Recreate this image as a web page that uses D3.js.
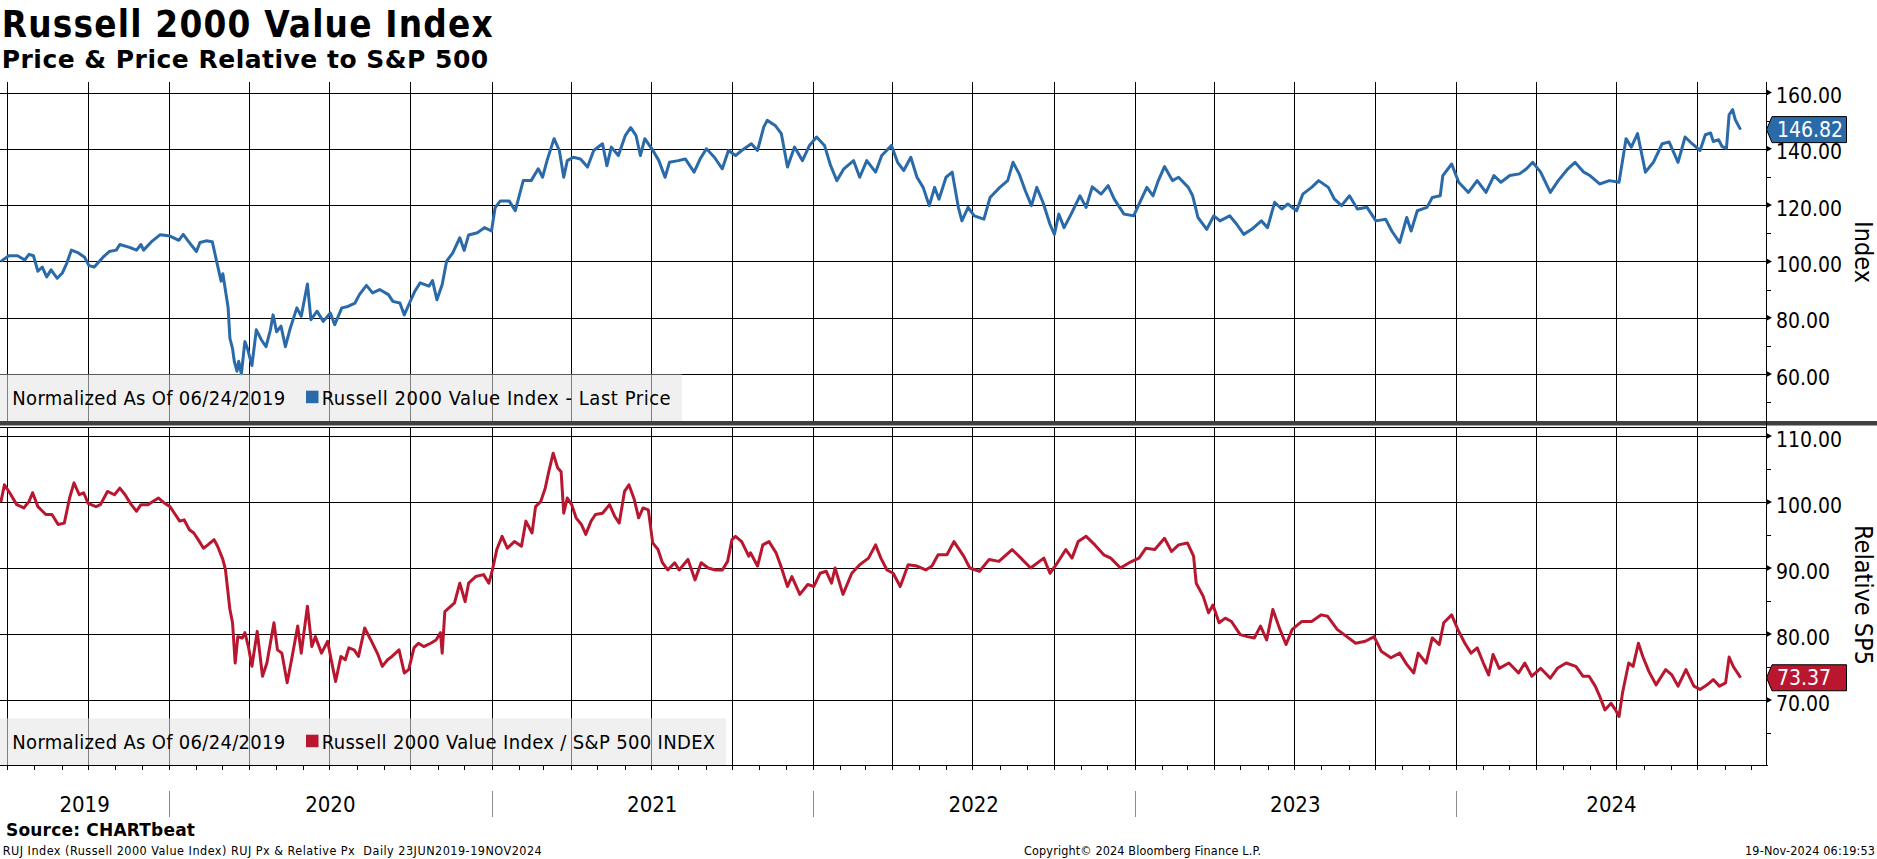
<!DOCTYPE html>
<html>
<head>
<meta charset="utf-8">
<script src="https://cdn.jsdelivr.net/npm/d3@7"></script>
<style>
  body { margin: 0; background: #fff; }
  svg { display: block; }
  text { font-family: "DejaVu Sans Condensed", "DejaVu Sans", sans-serif; white-space: pre; }
</style>
</head>
<body>
<script>
// Russell 2000 Value Index, normalized to 100 on 06/24/2019
var priceDates = [
  "2019-06-24","2019-07-03","2019-07-13","2019-07-21","2019-07-26","2019-07-31","2019-08-05","2019-08-10","2019-08-15","2019-08-20","2019-08-27","2019-09-02","2019-09-07","2019-09-12","2019-09-20","2019-09-27","2019-10-02","2019-10-08","2019-10-18","2019-10-25","2019-11-02","2019-11-06","2019-11-17","2019-11-25","2019-11-30","2019-12-03","2019-12-12","2019-12-22",
  "2020-01-02","2020-01-12","2020-01-17","2020-01-24","2020-02-01","2020-02-05","2020-02-12","2020-02-19","2020-02-24","2020-02-29","2020-03-02","2020-03-08","2020-03-10","2020-03-13","2020-03-15","2020-03-18","2020-03-20","2020-03-23","2020-03-27","2020-03-30","2020-04-04","2020-04-09","2020-04-15","2020-04-20","2020-04-25","2020-04-28","2020-05-02","2020-05-07","2020-05-12","2020-05-17","2020-05-25","2020-05-30","2020-06-06","2020-06-10","2020-06-17","2020-06-24","2020-07-02","2020-07-07","2020-07-15","2020-07-22","2020-07-30","2020-08-04","2020-08-12","2020-08-19","2020-08-27","2020-09-06","2020-09-11","2020-09-19","2020-09-24","2020-09-29","2020-10-06","2020-10-12","2020-10-22","2020-10-26","2020-10-31","2020-11-06","2020-11-11","2020-11-18","2020-11-26","2020-12-01","2020-12-06","2020-12-16","2020-12-24",
  "2021-01-01","2021-01-05","2021-01-11","2021-01-21","2021-01-28","2021-02-06","2021-02-15","2021-02-23","2021-02-28","2021-03-05","2021-03-13","2021-03-19","2021-03-24","2021-03-28","2021-04-04","2021-04-12","2021-04-20","2021-04-27","2021-05-07","2021-05-12","2021-05-17","2021-05-25","2021-06-02","2021-06-08","2021-06-14","2021-06-19","2021-06-24","2021-07-02","2021-07-10","2021-07-17","2021-07-22","2021-08-01","2021-08-09","2021-08-19","2021-08-26","2021-09-02","2021-09-11","2021-09-20","2021-09-27","2021-10-05","2021-10-12","2021-10-23","2021-10-30","2021-11-06","2021-11-10","2021-11-19","2021-11-26","2021-12-03","2021-12-11","2021-12-20","2021-12-28",
  "2022-01-05","2022-01-14","2022-01-21","2022-01-28","2022-02-05","2022-02-16","2022-02-23","2022-03-03","2022-03-13","2022-03-20","2022-03-31","2022-04-07","2022-04-14","2022-04-22","2022-04-29","2022-05-06","2022-05-13","2022-05-19","2022-05-24","2022-06-01","2022-06-08","2022-06-15","2022-06-19","2022-06-26","2022-07-03","2022-07-14","2022-07-21","2022-08-01","2022-08-10","2022-08-16","2022-08-23","2022-08-30","2022-09-06","2022-09-12","2022-09-19","2022-09-27","2022-10-02","2022-10-07","2022-10-13","2022-10-21","2022-10-31","2022-11-07","2022-11-14","2022-11-24","2022-12-02","2022-12-09","2022-12-20","2022-12-31",
  "2023-01-07","2023-01-15","2023-01-22","2023-01-28","2023-02-04","2023-02-13","2023-02-20","2023-03-03","2023-03-08","2023-03-14","2023-03-24","2023-04-01","2023-04-08","2023-04-19","2023-04-27","2023-05-05","2023-05-14","2023-05-25","2023-06-01","2023-06-09","2023-06-17","2023-06-24","2023-07-04","2023-07-11","2023-07-21","2023-07-29","2023-08-09","2023-08-16","2023-08-24","2023-09-02","2023-09-11","2023-09-22","2023-10-02","2023-10-13","2023-10-20","2023-10-29","2023-11-06","2023-11-11","2023-11-18","2023-11-29","2023-12-05","2023-12-14","2023-12-17","2023-12-27",
  "2024-01-04","2024-01-15","2024-01-25","2024-02-04","2024-02-13","2024-02-21","2024-03-02","2024-03-13","2024-03-21","2024-03-28","2024-04-06","2024-04-17","2024-04-26","2024-05-07","2024-05-15","2024-05-25","2024-06-01","2024-06-12","2024-06-23","2024-07-04","2024-07-12","2024-07-18","2024-07-25","2024-08-03","2024-08-12","2024-08-22","2024-08-30","2024-09-09","2024-09-17","2024-09-25","2024-10-04","2024-10-10","2024-10-16","2024-10-19","2024-10-25","2024-10-29","2024-11-03","2024-11-06","2024-11-10","2024-11-13","2024-11-19"
];
var priceValues = [
  100,102,102,100.5,102.5,102,96.5,98,94.5,97,94,96,99.5,104,103,101.5,98.5,98,101.5,103.5,104,106,105,104,106,104,107,109.5,
  109,107.5,109.6,106.7,103.5,106.7,107.3,107,99.9,93,95.6,83.5,72.7,69,64.5,61,64.5,60,71.5,69,63,75.7,72,69.7,75.7,81,75,77,69.7,75.7,83.5,80.5,92,79.3,82.3,78.7,81.7,77.5,83.5,84,85.2,88.2,91.5,88.8,90,88.2,85.8,85.2,81,84.6,89.4,92.4,91.2,93.2,86.4,91.8,100.1,103,108.4,103.9,109.4,110.2,112,
  110.8,119,121.5,121.5,118,128.7,128.7,132.9,129.9,135.8,143.6,139.4,129.9,135.8,137,136.4,133.5,139.4,141.8,134,140.6,137.6,144.8,147.5,144.8,137.6,143.6,140,135.8,129.9,135.2,135.8,136.4,131.7,136.5,140,137,132.9,139.4,137.6,139.4,141.8,139.4,147.7,150.1,148.3,145.4,133.5,140.6,135.8,141.2,
  144.2,141.2,134,128.7,132.9,135.8,129.9,135.8,131.7,137.6,141.2,135.2,132.3,137,129.9,126.3,119.8,126.3,122.1,129.9,131.7,119.2,114.4,119.2,116.2,115,122.7,126.3,128.7,135.2,131.1,125.1,119.8,126.3,121,113.2,109.6,116.8,112,116.8,123.3,119.2,126.5,123.9,126.9,122.1,116.8,116.2,
  121,126.3,123.3,128.7,133.7,128.7,129.9,126.3,123.3,115.6,111.4,116.2,114.4,116.2,113.2,109.6,111.4,114.4,112,121,118.6,120.4,118,123.9,126.3,128.7,126.3,122.1,119.8,123.3,118.6,119.2,114.4,115,110.8,106.7,115.6,110.8,118,119.2,122.7,123.3,130.5,134.6,
  128.1,124.5,128.7,124.5,130.5,128.1,130.5,131.1,132.9,135.2,131.7,124.5,128.7,132.9,135.2,131.7,130.5,127.5,128.7,128.1,143.6,140.6,145.4,131.7,135.2,141.8,142.4,135.2,144.2,141.8,139.4,145.0,145.6,142.6,143.2,140.8,140.2,152.1,153.9,150.3,146.82
];

// Russell 2000 Value Index / S&P 500, normalized to 100 on 06/24/2019
var relDates = [
  "2019-06-24","2019-06-28","2019-07-04","2019-07-12","2019-07-20","2019-07-26","2019-07-30","2019-08-05","2019-08-14","2019-08-21","2019-08-28","2019-09-04","2019-09-10","2019-09-15","2019-09-21","2019-09-26","2019-10-01","2019-10-10","2019-10-15","2019-10-23","2019-10-31","2019-11-06","2019-11-12","2019-11-19","2019-11-25","2019-11-30","2019-12-08","2019-12-14","2019-12-20","2019-12-27",
  "2020-01-02","2020-01-07","2020-01-13","2020-01-18","2020-01-24","2020-01-29","2020-02-03","2020-02-09","2020-02-14","2020-02-21","2020-02-25","2020-03-02","2020-03-05","2020-03-10","2020-03-13","2020-03-16","2020-03-19","2020-03-24","2020-03-27","2020-03-31","2020-04-04","2020-04-10","2020-04-16","2020-04-21","2020-04-29","2020-05-03","2020-05-08","2020-05-14","2020-05-19","2020-05-26","2020-05-30","2020-06-06","2020-06-11","2020-06-15","2020-06-22","2020-06-29","2020-07-03","2020-07-08","2020-07-14","2020-07-19","2020-07-23","2020-07-29","2020-08-03","2020-08-10","2020-08-17","2020-08-25","2020-08-30","2020-09-05","2020-09-10","2020-09-18","2020-09-24","2020-09-29","2020-10-05","2020-10-10","2020-10-16","2020-10-24","2020-10-30","2020-11-04","2020-11-06","2020-11-09","2020-11-20","2020-11-26","2020-12-02","2020-12-06","2020-12-14","2020-12-23","2020-12-29",
  "2021-01-02","2021-01-07","2021-01-13","2021-01-19","2021-01-27","2021-02-04","2021-02-09","2021-02-16","2021-02-20","2021-02-26","2021-03-03","2021-03-07","2021-03-12","2021-03-17","2021-03-21","2021-03-24","2021-03-28","2021-04-02","2021-04-07","2021-04-13","2021-04-18","2021-04-24","2021-04-29","2021-05-07","2021-05-15","2021-05-21","2021-05-26","2021-06-01","2021-06-06","2021-06-12","2021-06-17","2021-06-22","2021-06-28","2021-07-03","2021-07-09","2021-07-14","2021-07-20","2021-07-28","2021-08-02","2021-08-12","2021-08-20","2021-08-27","2021-09-04","2021-09-12","2021-09-20","2021-09-26","2021-10-01","2021-10-05","2021-10-12","2021-10-20","2021-10-22","2021-10-30","2021-11-05","2021-11-12","2021-11-20","2021-11-25","2021-12-03","2021-12-08","2021-12-17","2021-12-26",
  "2022-01-02","2022-01-09","2022-01-16","2022-01-22","2022-01-26","2022-02-04","2022-02-14","2022-02-23","2022-03-05","2022-03-13","2022-03-19","2022-03-26","2022-04-02","2022-04-10","2022-04-19","2022-04-29","2022-05-09","2022-05-16","2022-05-23","2022-06-02","2022-06-10","2022-06-21","2022-06-28","2022-07-09","2022-07-20","2022-07-31","2022-08-15","2022-08-25","2022-09-05","2022-09-20","2022-09-27","2022-10-04","2022-10-15","2022-10-22","2022-10-29","2022-11-07","2022-11-17","2022-11-27","2022-12-05","2022-12-16","2022-12-26",
  "2023-01-06","2023-01-14","2023-01-24","2023-02-04","2023-02-12","2023-02-20","2023-03-02","2023-03-09","2023-03-12","2023-03-20","2023-03-26","2023-03-31","2023-04-07","2023-04-14","2023-04-21","2023-05-01","2023-05-09","2023-05-17","2023-05-24","2023-05-31","2023-06-07","2023-06-15","2023-06-22","2023-06-29","2023-07-10","2023-07-21","2023-08-01","2023-08-08","2023-08-19","2023-08-30","2023-09-09","2023-09-20","2023-09-30","2023-10-08","2023-10-19","2023-10-29","2023-11-06","2023-11-14","2023-11-19","2023-11-28","2023-12-05","2023-12-13","2023-12-18","2023-12-27",
  "2024-01-03","2024-01-11","2024-01-18","2024-01-25","2024-02-01","2024-02-07","2024-02-12","2024-02-19","2024-03-01","2024-03-12","2024-03-19","2024-03-27","2024-04-06","2024-04-17","2024-04-25","2024-05-05","2024-05-16","2024-05-24","2024-05-31","2024-06-07","2024-06-12","2024-06-18","2024-06-25","2024-06-30","2024-07-04","2024-07-08","2024-07-15","2024-07-20","2024-07-26","2024-07-31","2024-08-07","2024-08-15","2024-08-26","2024-09-02","2024-09-09","2024-09-18","2024-09-27","2024-10-04","2024-10-12","2024-10-19","2024-10-26","2024-11-02","2024-11-06","2024-11-11","2024-11-17","2024-11-19"
];
var relValues = [
  100,102.6,101.4,99.6,99.1,100.1,101.4,99.3,98.1,98.1,96.6,96.8,100.6,102.9,101.1,101.4,99.8,99.3,99.6,101.6,101.1,102.1,101.1,99.6,98.6,99.6,99.6,100.1,100.6,99.8,
  99.3,98.3,97.1,97.3,95.8,95.3,94.3,93.0,93.5,94.3,93.3,91.3,89.7,83.7,81.7,75.6,79.6,79.4,80.2,78.1,75.1,80.4,73.6,75.6,81.7,77.6,77.1,72.6,76.1,81.2,77.1,84.2,78.1,79.6,77.1,78.9,76.1,72.8,76.6,76.1,77.9,77.6,76.6,80.9,79.1,76.9,75.1,76.1,76.6,77.6,74.1,74.6,77.9,78.6,78.1,78.6,79.1,80.2,77.1,83.4,84.7,87.7,84.9,87.7,88.7,89.0,87.7,
  89.7,92.8,94.8,93.0,94.0,93.3,97.1,95.3,99.3,100.1,102.1,104.6,107.4,105.2,104.6,98.3,100.6,99.6,97.6,96.6,95.1,97.1,98.1,98.3,99.6,97.8,96.8,101.6,102.6,100.4,97.6,99.1,98.8,93.8,92.8,90.8,89.7,90.8,89.7,91.3,88.2,90.8,90.0,89.7,89.7,91.0,94.3,94.8,94.0,91.8,92.3,90.3,93.5,94.0,92.3,90.5,87.2,88.7,86.0,87.5,
  87.2,89.2,89.5,87.7,90.0,86.0,89.2,90.5,91.5,93.5,91.5,89.7,89.2,87.2,90.5,90.3,89.7,90.3,92.0,92.0,94.0,91.8,90.0,89.5,91.3,91.0,92.8,91.5,90.0,91.5,89.2,90.5,92.8,91.5,94.0,94.8,93.5,92.0,91.5,90.0,90.8,
  91.5,93.0,92.8,94.5,92.5,93.5,93.8,91.8,87.7,85.7,83.2,84.4,81.7,82.4,81.9,79.9,79.6,79.4,81.2,79.1,83.7,80.7,78.4,80.7,81.9,81.9,82.9,82.7,80.7,79.6,78.6,78.9,79.6,77.4,76.4,77.1,75.4,74.1,77.1,75.6,79.4,78.4,81.7,82.9,
  80.7,78.6,77.1,77.9,75.6,73.8,76.9,74.8,75.6,74.1,75.6,73.6,74.8,73.3,74.8,75.6,75.1,73.6,73.6,72.1,70.6,68.5,69.5,68.5,67.5,71.1,75.6,75.1,78.6,76.6,74.3,72.3,74.6,73.8,72.1,74.6,72.1,71.6,72.3,73.1,72.1,72.6,76.5,75.0,73.8,73.37
];

var priceTicks = [60, 80, 100, 120, 140, 160];
var priceMinor = [50, 70, 90, 110, 130, 150];
var relTicks = [70, 80, 90, 100, 110];
var relMinor = [65, 75, 85, 95, 105];
var yearLabels = ["2019", "2020", "2021", "2022", "2023", "2024"];

var blue = "#2b6aa9", red = "#b9172f";
var W = 1877, H = 859;
var axisX = 1766.5;

var parse = d3.utcParse("%Y-%m-%d");
var price = priceDates.map(function (d, i) { return { date: parse(d), value: priceValues[i] }; });
var rel = relDates.map(function (d, i) { return { date: parse(d), value: relValues[i] }; });

var x = d3.scaleUtc()
  .domain([parse("2019-06-23"), parse("2024-12-19")])
  .range([0, 1767]);

var yTop = d3.scaleLinear().domain([60, 160]).range([374, 92.5]);
var yBot = d3.scaleLinear().domain([70, 110]).range([700, 436]);

var svg = d3.select("body").append("svg")
  .attr("width", W)
  .attr("height", H);

var defs = svg.append("defs");
defs.append("clipPath").attr("id", "clipTop")
  .append("rect").attr("x", 0).attr("y", 82).attr("width", axisX).attr("height", 339);
defs.append("clipPath").attr("id", "clipBot")
  .append("rect").attr("x", 0).attr("y", 427).attr("width", axisX).attr("height", 338);

function crisp(v) { return Math.round(v) + 0.5; }

// stretch a text to the width it has in the original
function fit(sel, w) {
  sel.attr("textLength", w).attr("lengthAdjust", "spacing");
  return sel;
}

// quarterly vertical grid
var quarters = x.ticks(d3.utcMonth.every(3)).filter(function (d) { return x(d) > 1 && x(d) < axisX - 1; });
var grid = svg.append("g").attr("stroke", "#000").attr("stroke-width", 1).attr("shape-rendering", "crispEdges");

grid.selectAll(".vt").data(quarters).enter().append("line")
  .attr("x1", function (d) { return crisp(x(d)); })
  .attr("x2", function (d) { return crisp(x(d)); })
  .attr("y1", 82).attr("y2", 421);
grid.selectAll(".vb").data(quarters).enter().append("line")
  .attr("x1", function (d) { return crisp(x(d)); })
  .attr("x2", function (d) { return crisp(x(d)); })
  .attr("y1", 427).attr("y2", 770);

// horizontal grid
grid.selectAll(".ht").data(priceTicks).enter().append("line")
  .attr("x1", 0).attr("x2", axisX)
  .attr("y1", function (d) { return crisp(yTop(d)); })
  .attr("y2", function (d) { return crisp(yTop(d)); });
grid.selectAll(".hb").data(relTicks).enter().append("line")
  .attr("x1", 0).attr("x2", axisX)
  .attr("y1", function (d) { return crisp(yBot(d)); })
  .attr("y2", function (d) { return crisp(yBot(d)); });

// bottom panel frame and x axis
grid.append("line").attr("x1", 0).attr("x2", axisX).attr("y1", 427.5).attr("y2", 427.5);
grid.append("line").attr("x1", 0).attr("x2", axisX + 1).attr("y1", 765.5).attr("y2", 765.5);
var months = d3.utcMonth.range(x.domain()[0], x.domain()[1]);
grid.selectAll(".mt").data(months).enter().append("line")
  .attr("x1", function (d) { return crisp(x(d)); })
  .attr("x2", function (d) { return crisp(x(d)); })
  .attr("y1", 765).attr("y2", 770);

// series
svg.append("path").datum(price)
  .attr("clip-path", "url(#clipTop)")
  .attr("fill", "none").attr("stroke", blue).attr("stroke-width", 3)
  .attr("stroke-linejoin", "round")
  .attr("d", d3.line().x(function (d) { return x(d.date); }).y(function (d) { return yTop(d.value); }));

svg.append("path").datum(rel)
  .attr("clip-path", "url(#clipBot)")
  .attr("fill", "none").attr("stroke", red).attr("stroke-width", 3)
  .attr("stroke-linejoin", "round")
  .attr("d", d3.line().x(function (d) { return x(d.date); }).y(function (d) { return yBot(d.value); }));

// legends
function legend(y0, width, color, label, labelWidth) {
  var g = svg.append("g");
  g.append("rect").attr("x", 0).attr("y", y0).attr("width", width).attr("height", 46.7)
    .attr("fill", "rgb(228,228,228)").attr("fill-opacity", 0.56);
  fit(g.append("text").attr("x", 12.3).attr("y", y0 + 30.7).attr("font-size", 20)
    .attr("fill", "#000").text("Normalized As Of 06/24/2019"), 273);
  g.append("rect").attr("x", 306).attr("y", y0 + 16.4).attr("width", 12.5).attr("height", 12.5).attr("fill", color);
  fit(g.append("text").attr("x", 321.7).attr("y", y0 + 30.7).attr("font-size", 20)
    .attr("fill", "#000").text(label), labelWidth);
}
legend(374.3, 682, blue, "Russell 2000 Value Index - Last Price", 349);
legend(718.3, 726, red, "Russell 2000 Value Index / S&P 500 INDEX", 393.5);

// separator between panels
svg.append("rect").attr("x", 0).attr("y", 421).attr("width", W).attr("height", 4.5).attr("fill", "#404040");

// right axis
var ax = svg.append("g");
ax.append("line").attr("x1", axisX).attr("x2", axisX).attr("y1", 82).attr("y2", 766)
  .attr("stroke", "#000").attr("stroke-width", 1);

function majorTicks(ticks, y) {
  ax.selectAll(null).data(ticks).enter().append("path")
    .attr("d", function (d) { var t = y(d); return "M" + axisX + "," + (t - 3) + "L" + (axisX + 5.5) + "," + t + "L" + axisX + "," + (t + 3) + "Z"; })
    .attr("fill", "#000");
  ax.selectAll(null).data(ticks).enter().append("text")
    .attr("x", 1776).attr("y", function (d) { return y(d) + 10.5; })
    .attr("font-size", 21).attr("fill", "#000")
    .text(function (d) { return d3.format(".2f")(d); });
}
function minorTicks(ticks, y) {
  ax.selectAll(null).data(ticks).enter().append("line")
    .attr("x1", axisX).attr("x2", axisX + 4)
    .attr("y1", function (d) { return crisp(y(d)); })
    .attr("y2", function (d) { return crisp(y(d)); })
    .attr("stroke", "#000").attr("shape-rendering", "crispEdges");
}
majorTicks(priceTicks, yTop);
minorTicks(priceMinor, yTop);
majorTicks(relTicks, yBot);
minorTicks(relMinor, yBot);

// axis titles
svg.append("text").attr("transform", "translate(1855,252) rotate(90)")
  .attr("text-anchor", "middle").attr("font-size", 25).text("Index");
svg.append("text").attr("transform", "translate(1855,595) rotate(90)")
  .attr("text-anchor", "middle").attr("font-size", 25).text("Relative SP5");

// last value tags
function tag(value, y, color) {
  var t = y(value);
  svg.append("path")
    .attr("d", "M" + axisX + "," + t + "L" + (axisX + 5.5) + "," + (t - 13) + "L1846.5," + (t - 13) + "L1846.5," + (t + 13) + "L" + (axisX + 5.5) + "," + (t + 13) + "Z")
    .attr("fill", color).attr("stroke", "#000").attr("stroke-width", 1);
  svg.append("text").attr("x", 1777).attr("y", t + 7.5)
    .attr("font-size", 21).attr("fill", "#fff").text(d3.format(".2f")(value));
}
tag(priceValues[priceValues.length - 1], yTop, blue);
tag(relValues[relValues.length - 1], yBot, red);

// year labels
var dom = x.domain();
yearLabels.forEach(function (yr) {
  var a = parse(yr + "-01-01"), b = parse((+yr + 1) + "-01-01");
  var x0 = x(a < dom[0] ? dom[0] : a), x1 = x(b > dom[1] ? dom[1] : b);
  svg.append("text").attr("x", (x0 + x1) / 2).attr("y", 812.3)
    .attr("text-anchor", "middle").attr("font-size", 22).text(yr);
  if (a > dom[0]) {
    svg.append("line").attr("x1", crisp(x(a))).attr("x2", crisp(x(a)))
      .attr("y1", 791).attr("y2", 817).attr("stroke", "#8c8c8c");
  }
});

// titles
fit(svg.append("text").attr("x", 1.7).attr("y", 36.7).attr("font-size", 36.5).attr("font-weight", "bold")
  .text("Russell 2000 Value Index"), 491);
fit(svg.append("text").attr("x", 1.7).attr("y", 68.3).attr("font-size", 25).attr("font-weight", "bold")
  .style("font-family", "'DejaVu Sans', sans-serif")
  .text("Price & Price Relative to S&P 500"), 486.5);

// source and footer
fit(svg.append("text").attr("x", 6).attr("y", 835.7).attr("font-size", 17).attr("font-weight", "bold")
  .style("font-family", "'DejaVu Sans', sans-serif")
  .text("Source: CHARTbeat"), 189);
fit(svg.append("text").attr("x", 2.7).attr("y", 855).attr("font-size", 12.5)
  .text("RUJ Index (Russell 2000 Value Index) RUJ Px & Relative Px  Daily 23JUN2019-19NOV2024"), 539);
fit(svg.append("text").attr("x", 1024).attr("y", 855).attr("font-size", 12.5)
  .text("Copyright\u00a9 2024 Bloomberg Finance L.P."), 237);
fit(svg.append("text").attr("x", 1745).attr("y", 855).attr("font-size", 12.5)
  .text("19-Nov-2024 06:19:53"), 130);
</script>
</body>
</html>
